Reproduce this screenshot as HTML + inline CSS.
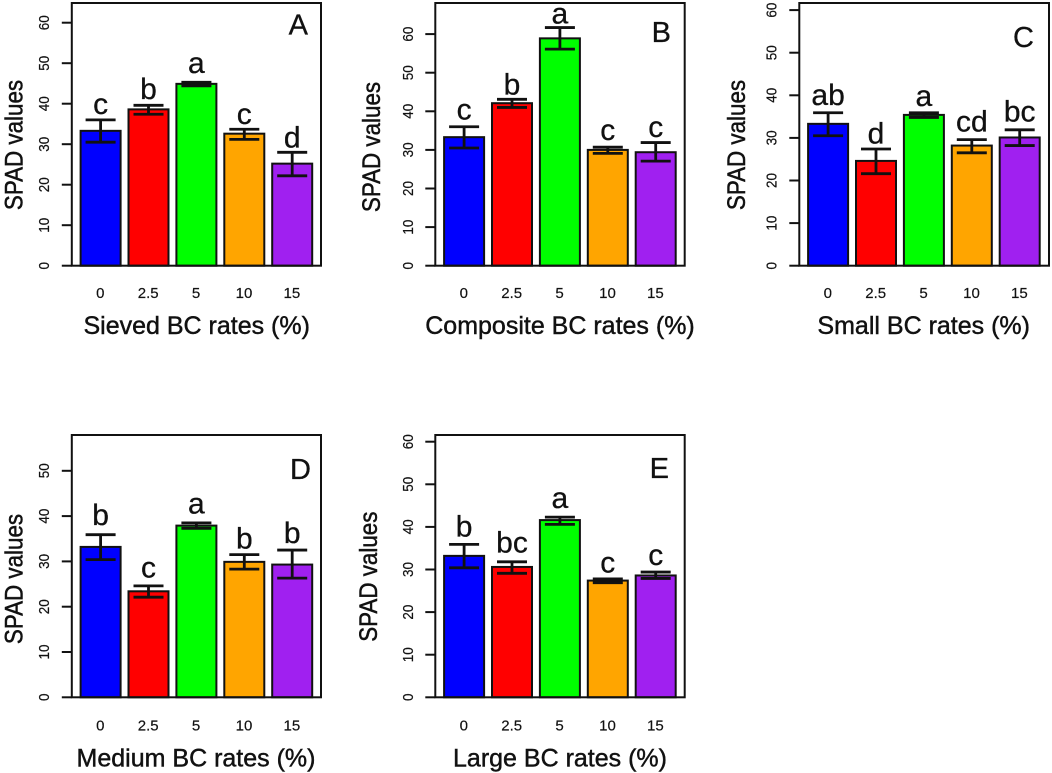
<!DOCTYPE html>
<html lang="en">
<head>
<meta charset="utf-8">
<title>SPAD values by BC rates</title>
<style>
html,body{margin:0;padding:0;background:#fff;width:1052px;height:773px;overflow:hidden}
svg{display:block}
text{font-family:"Liberation Sans",Arial,sans-serif;fill:#111}
.heavy{stroke:#111;stroke-width:.45px}
.letter{stroke:#111;stroke-width:.3px}
.tick{stroke:#222;stroke-width:.2px}
</style>
</head>
<body>
<svg id="fig" width="1052" height="773" viewBox="0 0 1052 773" xmlns="http://www.w3.org/2000/svg"></svg>
<script>
const categories = ['0', '2.5', '5', '10', '15'];
const barColors = ['#0000ff', '#ff0000', '#00ff00', '#ffa500', '#a020f0'];

const ticksA = [0, 10, 20, 30, 40, 50, 60];
const meansA = [33.3, 38.6, 44.9, 32.6, 25.2];
const upperA = [36.0, 39.6, 45.3, 33.7, 28.0];
const lowerA = [30.5, 37.4, 44.4, 31.2, 22.2];
const lettersA = ['c', 'b', 'a', 'c', 'd'];
const letterLevelA = [37.4, 41.1, 47.6, 35.0, 29.2];

const ticksB = [0, 10, 20, 30, 40, 50, 60];
const meansB = [33.3, 42.1, 58.9, 30.0, 29.4];
const upperB = [36.0, 43.1, 61.7, 30.7, 31.9];
const lowerB = [30.5, 41.0, 56.1, 29.1, 27.1];
const lettersB = ['c', 'b', 'a', 'c', 'c'];
const letterLevelB = [37.9, 44.4, 62.8, 32.6, 33.4];

const ticksC = [0, 10, 20, 30, 40, 50, 60];
const meansC = [33.3, 24.6, 35.4, 28.2, 30.1];
const upperC = [35.9, 27.4, 35.9, 29.6, 31.9];
const lowerC = [30.5, 21.6, 34.8, 26.5, 28.2];
const lettersC = ['ab', 'd', 'a', 'cd', 'bc'];
const letterLevelC = [37.7, 28.7, 37.5, 31.5, 33.8];

const ticksD = [0, 10, 20, 30, 40, 50];
const meansD = [33.2, 23.4, 37.9, 29.9, 29.3];
const upperD = [35.9, 24.6, 38.5, 31.5, 32.5];
const lowerD = [30.4, 22.1, 37.3, 28.3, 26.3];
const lettersD = ['b', 'c', 'a', 'b', 'b'];
const letterLevelD = [38.0, 26.5, 40.6, 32.9, 34.1];

const ticksE = [0, 10, 20, 30, 40, 50, 60];
const meansE = [33.2, 30.6, 41.6, 27.4, 28.6];
const upperE = [35.9, 31.8, 42.3, 27.8, 29.4];
const lowerE = [30.4, 29.1, 40.6, 26.9, 27.9];
const lettersE = ['b', 'bc', 'a', 'c', 'c'];
const letterLevelE = [37.7, 34.0, 44.4, 29.3, 31.0];

const panels = [
  {id:'a', tag:'A', title:'Sieved BC rates (%)', ticks:ticksA, means:meansA, upper:upperA, lower:lowerA, letters:lettersA, levels:letterLevelA,
   left:71.8, right:321, top:3, bottom:265.7, pxPer10:40.5, tagX:308, tagY:34.7, xTitleX:196.7, xTitleY:334, xTickY:298, yTickX:49, yTitleX:22.7, yTitleY:145},
  {id:'b', tag:'B', title:'Composite BC rates (%)', ticks:ticksB, means:meansB, upper:upperB, lower:lowerB, letters:lettersB, levels:letterLevelB,
   left:435.3, right:684.7, top:3, bottom:265.7, pxPer10:38.6, tagX:671, tagY:42, xTitleX:560, xTitleY:334, xTickY:298, yTickX:413, yTitleX:380, yTitleY:147},
  {id:'c', tag:'C', title:'Small BC rates (%)', ticks:ticksC, means:meansC, upper:upperC, lower:lowerC, letters:lettersC, levels:letterLevelC,
   left:799.3, right:1049, top:3, bottom:265.7, pxPer10:42.6, tagX:1034, tagY:47, xTitleX:923.7, xTitleY:334, xTickY:298, yTickX:776.7, yTitleX:745, yTitleY:145},
  {id:'d', tag:'D', title:'Medium BC rates (%)', ticks:ticksD, means:meansD, upper:upperD, lower:lowerD, letters:lettersD, levels:letterLevelD,
   left:71.8, right:321, top:435, bottom:697.3, pxPer10:45.3, tagX:311, tagY:479, xTitleX:196, xTitleY:766.7, xTickY:730.7, yTickX:49, yTitleX:22.7, yTitleY:579},
  {id:'e', tag:'E', title:'Large BC rates (%)', ticks:ticksE, means:meansE, upper:upperE, lower:lowerE, letters:lettersE, levels:letterLevelE,
   left:435.3, right:684.7, top:435, bottom:697.3, pxPer10:42.6, tagX:669, tagY:478, xTitleX:560, xTitleY:766.7, xTickY:730.7, yTickX:413, yTitleX:377, yTitleY:576.7}
];

const SVG_NS = 'http://www.w3.org/2000/svg';
const fig = document.getElementById('fig');
const ROTATED_STRETCH = 1.12;

function shape(parent, tag, attrs) {
  const el = document.createElementNS(SVG_NS, tag);
  for (const k in attrs) el.setAttribute(k, attrs[k]);
  parent.appendChild(el);
  return el;
}
function label(parent, str, x, y, size, anchor, rotated, cls) {
  const el = document.createElementNS(SVG_NS, 'text');
  el.setAttribute('transform', 'translate(' + x + ' ' + y + ')' + (rotated ? ' scale(' + ROTATED_STRETCH + ' 1) rotate(-90)' : ''));
  el.setAttribute('font-size', size);
  el.setAttribute('text-anchor', anchor);
  el.setAttribute('class', cls);
  el.textContent = str;
  parent.appendChild(el);
  return el;
}

panels.forEach(function (p) {
  const yScale = function (v) { return p.bottom - v * p.pxPer10 / 10; };
  const xScale = function (i) { return p.left + 28.8 + i * 47.9; };
  const barHalf = 20;
  const capHalf = 15;

  const g = shape(fig, 'g', {});
  
  

  p.means.forEach(function (value, i) {
    const cx = xScale(i);

    const bar = shape(g, 'rect', {x: cx - barHalf, y: yScale(value), width: barHalf * 2, height: yScale(0) - yScale(value), fill: barColors[i], stroke: '#111', 'stroke-width': 2});
    
    

    const err = shape(g, 'path', {d: 'M' + (cx - capHalf) + ' ' + yScale(p.upper[i]) + 'H' + (cx + capHalf) + 'M' + cx + ' ' + yScale(p.upper[i]) + 'V' + yScale(p.lower[i]) + 'M' + (cx - capHalf) + ' ' + yScale(p.lower[i]) + 'H' + (cx + capHalf), fill: 'none', stroke: '#111', 'stroke-width': 2.8});
    
    

    const letter = label(g, p.letters[i], cx, yScale(p.levels[i]), 30, 'middle', false, 'letter');
    
    

    const tickLabel = label(g, categories[i], cx - 0.3, p.xTickY, 15, 'middle', false, 'tick');
    
    
  });

  const box = shape(g, 'rect', {x: p.left, y: p.top, width: p.right - p.left, height: p.bottom - p.top, fill: 'none', stroke: '#111', 'stroke-width': 2});
  
  

  p.ticks.forEach(function (t) {
    const tick = shape(g, 'line', {x1: p.left - 10, x2: p.left, y1: yScale(t), y2: yScale(t), stroke: '#111', 'stroke-width': 2});
    
    

    const tickText = label(g, String(t), p.yTickX, yScale(t), 13.5, 'middle', true, 'tick');
    
    
  });

  const tag = label(g, p.tag, p.tagX, p.tagY, 29, 'end', false, 'letter');
  
  

  const xTitle = label(g, p.title, p.xTitleX, p.xTitleY, 25, 'middle', false, 'heavy');
  
  

  const yTitle = label(g, 'SPAD values', p.yTitleX, p.yTitleY, 22.4, 'middle', true, 'heavy');
  
  
});
</script>
</body>
</html>
